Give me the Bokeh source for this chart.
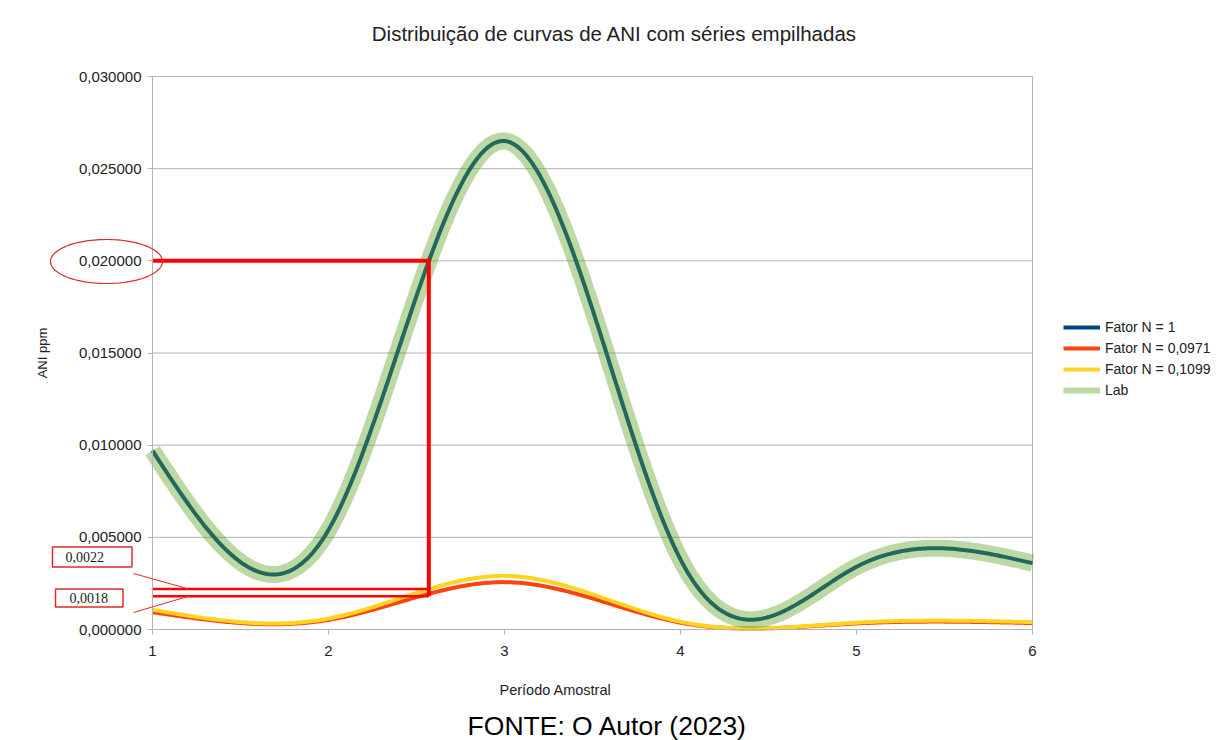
import numpy as np
from bokeh.plotting import figure
from bokeh.models import (Legend, LegendItem, Label, Arrow, PolyAnnotation,
                          FixedTicker, CustomJSTickFormatter)
from bokeh.embed import file_html
from bokeh.resources import INLINE

# ---- data -------------------------------------------------------------
periods = [1, 2, 3, 4, 5, 6]
fator_n_1 = [0.0097, 0.0054, 0.0265, 0.0038, 0.0034, 0.0036]
fator_n_0971 = [0.00094, 0.00052, 0.00257, 0.00037, 0.00033, 0.00035]
fator_n_1099 = [0.00107, 0.00059, 0.00291, 0.00042, 0.00037, 0.00040]
lab = [0.0097, 0.0054, 0.0265, 0.0038, 0.0034, 0.0036]

y_ticks = [0.0, 0.005, 0.010, 0.015, 0.020, 0.025, 0.030]
y_tick_labels = ["0,000000", "0,005000", "0,010000", "0,015000",
                 "0,020000", "0,025000", "0,030000"]

# reading of the Lab curve at 0,020 and the two values found below it
ref_level = 0.020
ref_period = 2.57
callout_values = [0.0022, 0.0018]
callout_texts = ["0,0022", "0,0018"]

# ---- geometry ---------------------------------------------------------
# the frame fills the page; the plotting area is the part between the axes
W, H = 1217, 740
A_LEFT, A_RIGHT, A_TOP, A_BOTTOM = 152, 1032, 76, 629
FONT = "Liberation Sans"
RED = "#ff0000"
THIN_RED = "#e02a26"
GRID = "#b3b3b3"
TEXT = "#222222"


def dx(px):
    """page pixel column -> period value"""
    return periods[0] + (px - A_LEFT) / (A_RIGHT - A_LEFT) * (periods[-1] - periods[0])


def dy(py):
    """page pixel row -> ppm value"""
    return (A_BOTTOM - py) / (A_BOTTOM - A_TOP) * y_ticks[-1]


def smooth(xs, ys, samples=80):
    """Natural cubic spline through the points, for drawing smoothed lines."""
    x = np.asarray(xs, float)
    y = np.asarray(ys, float)
    n = len(x)
    h = np.diff(x)
    A = np.zeros((n, n))
    r = np.zeros(n)
    A[0, 0] = A[-1, -1] = 1.0
    for i in range(1, n - 1):
        A[i, i - 1] = h[i - 1]
        A[i, i] = 2 * (h[i - 1] + h[i])
        A[i, i + 1] = h[i]
        r[i] = 6 * ((y[i + 1] - y[i]) / h[i] - (y[i] - y[i - 1]) / h[i - 1])
    M = np.linalg.solve(A, r)
    out_x, out_y = [], []
    for i in range(n - 1):
        t = np.linspace(0, 1, samples, endpoint=(i == n - 2))
        a, b = 1 - t, t
        hh = h[i] ** 2 / 6
        seg = (M[i] * a ** 3 + M[i + 1] * b ** 3) * hh \
            + (y[i] - M[i] * hh) * a + (y[i + 1] - M[i + 1] * hh) * b
        out_x.extend((x[i] + t * h[i]).tolist())
        out_y.extend(seg.tolist())
    return out_x, out_y


p = figure(width=W, height=H, x_range=(dx(0), dx(W)), y_range=(dy(H), dy(0)),
           output_backend="svg", toolbar_location=None,
           min_border_left=0, min_border_right=0,
           min_border_top=0, min_border_bottom=0)
p.title = None
p.background_fill_color = "white"
p.border_fill_color = "white"
p.outline_line_color = None
p.xgrid.visible = False
p.ygrid.visible = False

# ---- axes (pinned to the edges of the plotting area) ------------------
xa, ya = p.xaxis[0], p.yaxis[0]
xa.fixed_location = y_ticks[0]
xa.bounds = (periods[0], periods[-1])
ya.fixed_location = periods[0]
ya.bounds = (y_ticks[0], y_ticks[-1])
xa.ticker = FixedTicker(ticks=periods)
ya.ticker = FixedTicker(ticks=y_ticks)
ya.formatter = CustomJSTickFormatter(
    args=dict(tick_values=y_ticks, tick_labels=y_tick_labels),
    code="""
    let best = 0;
    for (let i = 0; i < tick_values.length; i++) {
        if (Math.abs(tick_values[i] - tick) < Math.abs(tick_values[best] - tick)) best = i;
    }
    return tick_labels[best];
    """)
for ax in (xa, ya):
    ax.axis_line_color = GRID
    ax.major_tick_line_color = GRID
    ax.minor_tick_line_color = None
    ax.major_tick_in = 0
    ax.major_tick_out = 5
    ax.major_label_text_font = FONT
    ax.major_label_text_font_size = "15px"
    ax.major_label_text_color = TEXT
    ax.axis_label_text_font = FONT
    ax.axis_label_text_font_style = "normal"
    ax.axis_label_text_font_size = "13px"
    ax.axis_label_text_color = TEXT
xa.major_label_standoff = 11
ya.axis_label = "ANI ppm"
ya.major_label_standoff = 6
ya.axis_label_standoff = 26

# x axis title sits left of the area's centre
p.add_layout(Label(x=dx(555), y=dy(689), text="Período Amostral",
                   text_align="center", text_baseline="middle",
                   text_font=FONT, text_font_size="14.5px", text_color=TEXT))

# horizontal grid and right edge of the plotting area
p.segment(x0=periods[0], x1=periods[-1], y0=y_ticks, y1=y_ticks,
          line_color=GRID, line_width=1)
p.segment(x0=periods[-1], x1=periods[-1], y0=y_ticks[0], y1=y_ticks[-1],
          line_color=GRID, line_width=1)

# ---- series -----------------------------------------------------------
sx, sy = smooth(periods, fator_n_1)
r_n1 = p.line(sx, sy, line_color="#004586", line_width=4, line_join="round")
sx, sy = smooth(periods, fator_n_0971)
r_n0971 = p.line(sx, sy, line_color="#ff420e", line_width=4, line_join="round")
sx, sy = smooth(periods, fator_n_1099)
r_n1099 = p.line(sx, sy, line_color="#ffd320", line_width=4, line_join="round")
sx, sy = smooth(periods, lab)
p.line(sx, sy, line_color="#579d1c", line_alpha=0.4, line_width=17,
       line_join="round")
# narrower swatch for the legend entry of the Lab band (zero-length line)
r_lab_key = p.line([periods[0], periods[0]], [lab[0], lab[0]],
                   line_color="#579d1c", line_alpha=0.4, line_width=6)

# ---- reading lines ----------------------------------------------------
p.line([periods[0], ref_period, ref_period],
       [ref_level, ref_level, callout_values[-1]],
       line_color=RED, line_width=4, line_join="miter")
for v in callout_values:
    p.line([periods[0], ref_period], [v, v], line_color=RED, line_width=2.5)

# ring around the 0,020000 tick label
theta = np.linspace(0, 2 * np.pi, 120)
cx, cy, rx, ry = 106, 261, 56, 22
p.add_layout(PolyAnnotation(
    xs=[dx(cx + rx * np.cos(t)) for t in theta],
    ys=[dy(cy + ry * np.sin(t)) for t in theta],
    fill_color=None, line_color=THIN_RED, line_alpha=1.0, line_width=1.2))

# boxed callouts with pointers
box_left = [52, 55]
box_mid = [556.5, 597.5]
box_pad = [dict(left=13, right=28, top=5, bottom=5),
           dict(left=14, right=15, top=4, bottom=4)]
pointer_start = [(133, 573), (133, 612)]
for txt, v, bl, bm, pad, (ps_x, ps_y) in zip(callout_texts, callout_values,
                                             box_left, box_mid,
                                             box_pad, pointer_start):
    p.add_layout(Label(x=dx(bl), y=dy(bm), text=txt,
                       text_align="left", text_baseline="middle",
                       text_font="Liberation Serif", text_font_size="14px",
                       text_color=TEXT,
                       border_line_color=THIN_RED, border_line_width=1.5,
                       background_fill_color="white", padding=pad))
    p.add_layout(Arrow(end=None, x_start=dx(ps_x), y_start=dy(ps_y),
                       x_end=dx(188), y_end=v,
                       line_color=THIN_RED, line_width=1))

# ---- legend -----------------------------------------------------------
legend = Legend(items=[
    LegendItem(label="Fator N = 1", renderers=[r_n1]),
    LegendItem(label="Fator N = 0,0971", renderers=[r_n0971]),
    LegendItem(label="Fator N = 0,1099", renderers=[r_n1099]),
    LegendItem(label="Lab", renderers=[r_lab_key]),
], location=(1063, H - 400))
legend.padding = 0
legend.margin = 0
legend.spacing = 1
legend.glyph_width = 37
legend.glyph_height = 20
legend.label_height = 20
legend.label_standoff = 5
legend.label_text_font = FONT
legend.label_text_font_size = "14px"
legend.label_text_color = TEXT
legend.border_line_color = None
legend.background_fill_color = None
p.add_layout(legend)

# ---- title and source -------------------------------------------------
p.add_layout(Label(x=dx(614), y=dy(33), text="Distribuição de curvas de ANI com séries empilhadas",
                   text_align="center", text_baseline="middle",
                   text_font=FONT, text_font_size="20.5px", text_color=TEXT))
p.add_layout(Label(x=dx(607), y=dy(725), text="FONTE: O Autor (2023)",
                   text_align="center", text_baseline="middle",
                   text_font=FONT, text_font_size="26.5px", text_color="black"))

open("out.html", "w").write(file_html(p, INLINE))
